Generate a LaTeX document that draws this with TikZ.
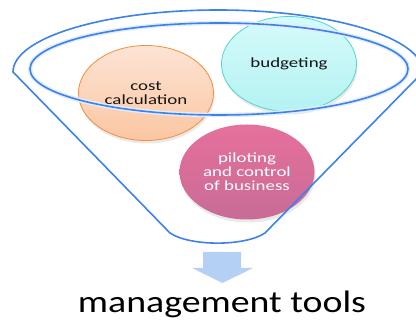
\documentclass[tikz,border=0pt]{standalone}
\usepackage{fontspec}
\usepackage{graphicx}
\setmainfont{Carlito}
\usetikzlibrary{shapes.geometric,shadows}
\definecolor{funnelblue}{RGB}{60,130,235}
\definecolor{arrowblue}{RGB}{180,208,245}
\definecolor{costtop}{RGB}{253,228,212}
\definecolor{costbot}{RGB}{251,198,162}
\definecolor{costedge}{RGB}{245,140,60}
\definecolor{budtop}{RGB}{214,251,251}
\definecolor{budbot}{RGB}{180,242,242}
\definecolor{budedge}{RGB}{80,214,204}
\definecolor{piltop}{RGB}{230,112,156}
\definecolor{pilbot}{RGB}{200,108,150}
\definecolor{darktext}{RGB}{20,20,20}
\newcommand{\stretchtxt}[1]{\scalebox{1.35}[1]{#1}}
\begin{document}
\begin{tikzpicture}[x=1pt,y=1pt,
  funnelline/.style={draw=funnelblue, line width=1.6pt},
  funnelglow/.style={draw=funnelblue!15, line width=4.5pt},
  bubble/.style={ellipse, minimum width=135pt, minimum height=95pt, inner sep=0pt,
    align=center, font=\fontsize{14}{14}\selectfont,
    drop shadow={shadow xshift=1pt, shadow yshift=-3pt, fill=gray!50, opacity=0.35}},
  costbubble/.style={bubble, draw=costedge, line width=0.8pt, top color=costtop, bottom color=costbot, text=darktext},
  budbubble/.style={bubble, draw=budedge, line width=0.8pt, top color=budtop, bottom color=budbot, text=darktext},
  pilbubble/.style={bubble, top color=piltop, bottom color=pilbot, text=white},
  title/.style={font=\fontsize{31}{31}\selectfont, text=black, inner sep=0pt}
]
\useasboundingbox (0,0) rectangle (416,320);
\clip (0,0) rectangle (416,320);

% bubbles
\node[costbubble] (cost) at (146,227) {\stretchtxt{cost}\\\stretchtxt{calculation}};
\node[budbubble] (budget) at (289,256) {\stretchtxt{budgeting}};
\node[pilbubble] (pilot) at (247,148) {\stretchtxt{piloting}\\\stretchtxt{and control}\\\stretchtxt{of business}};

% funnel glow
\draw[funnelglow] (219,251) ellipse[x radius=189, y radius=46];
% funnel outline
\draw[funnelline] (13,248) arc[start angle=180, end angle=0, x radius=205, y radius=62]
  -- (265,87) .. controls (245,73.5) and (190,73.5) .. (170,87) -- cycle;
% inner rim
\draw[funnelline] (219,251) ellipse[x radius=189, y radius=46];

% arrow
\fill[arrowblue] (203,68) -- (241,68) -- (241,52) -- (253,52) -- (222.5,37)
  -- (192,52) -- (203,52) -- cycle;

% title
\node[title, anchor=base] (tools) at (222,7) {\scalebox{1.22}[1]{management tools}};
\end{tikzpicture}
\end{document}
